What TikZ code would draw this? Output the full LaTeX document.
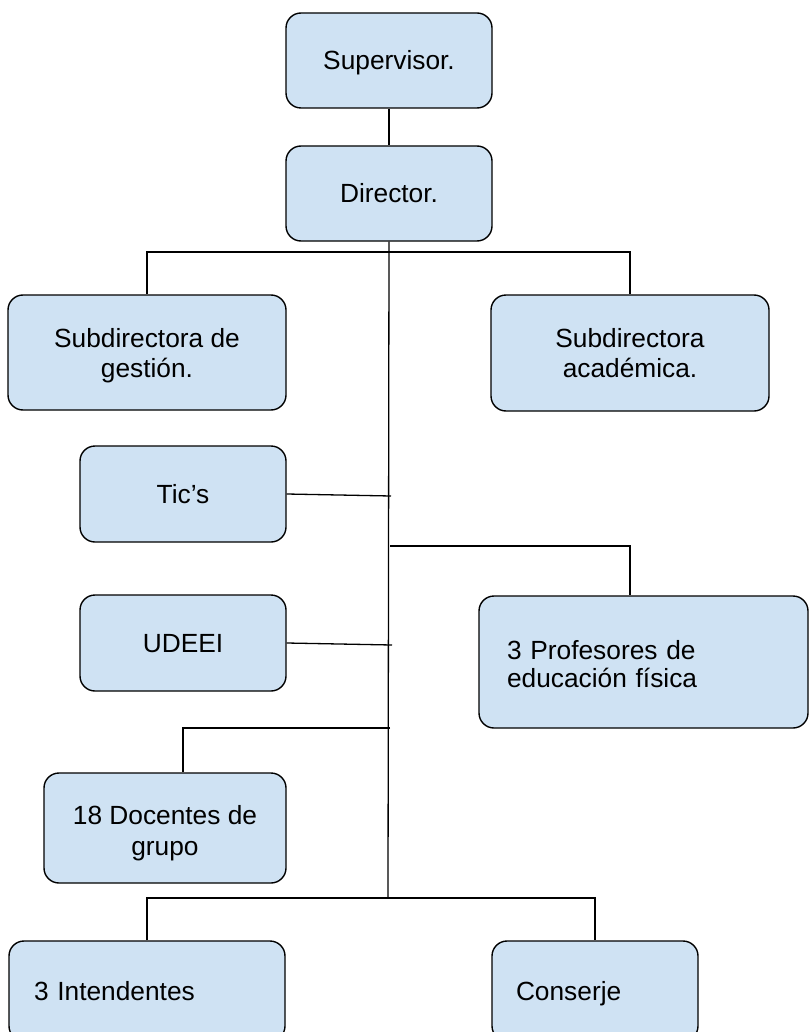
\documentclass[tikz,border=0pt]{standalone}
\usepackage{fontspec}
\setmainfont{Liberation Sans}
\definecolor{boxblue}{HTML}{CFE2F3}
\begin{document}
\begin{tikzpicture}[x=1pt,y=-1pt,
  orgbox/.style={draw=black, line width=1.4pt, fill=boxblue, rounded corners=15pt,
    inner sep=0pt, align=center, font=\fontsize{26.3}{30}\selectfont},
  oneline/.style={text height=24pt, text depth=5pt},
  link/.style={draw=black, line width=1.3pt}]
\useasboundingbox (0,0) rectangle (809,1032);
\clip (0,0) rectangle (809,1032);
\node[orgbox, oneline, minimum width=206pt, minimum height=95pt] (sup) at (389,60.5) {Supervisor.};
\node[orgbox, oneline, minimum width=206pt, minimum height=95pt] (dir) at (389,193.5) {Director.};
\node[orgbox, text height=54pt, text depth=5pt, minimum width=278pt, minimum height=115pt] (sg) at (147,352.5) {Subdirectora de\\gestión.};
\node[orgbox, text height=53pt, text depth=5pt, minimum width=278pt, minimum height=116pt] (sa) at (630,353) {Subdirectora\\académica.};
\node[orgbox, oneline, minimum width=206pt, minimum height=96pt] (tics) at (183,494) {Tic’s};
\node[orgbox, oneline, minimum width=206pt, minimum height=96pt] (udeei) at (183,643) {UDEEI};
\node[orgbox, font=\fontsize{26.3}{28}\selectfont, text height=24pt, text depth=30pt, minimum height=132pt, inner xsep=28pt, text width=273pt, align=left] (prof) at (643.5,662) {3 Profesores de\\educación física};
\node[orgbox, font=\fontsize{26.3}{31}\selectfont, text height=59pt, text depth=5pt, minimum width=242pt, minimum height=110pt] (doc) at (165,828) {18 Docentes de\\grupo};
\node[orgbox, oneline, minimum height=100pt, inner xsep=25pt, text width=226pt, align=left] (int) at (147,991) {3 Intendentes};
\node[orgbox, oneline, minimum height=100pt, inner xsep=24pt, text width=158pt, align=left] (con) at (595,991) {Conserje};

\coordinate (trunkend) at (388,898);
\coordinate (ticsend) at (391,496);
\coordinate (udeeiend) at (392,645);
\coordinate (profstart) at (390,546);
\coordinate (docstart) at (390,728);
\coordinate (topbar) at (389,252);

\draw[link] (sup.south) -- (dir.north);
\draw[link] (dir.south) -- (trunkend);
\draw[link] (sg.north) |- (topbar) -| (sa.north);
\draw[link] (tics.east) -- (ticsend);
\draw[link] (profstart) -| ([xshift=-13.5pt]prof.north);
\draw[link] (udeei.east) -- (udeeiend);
\draw[link] (docstart) -| ([xshift=18pt]doc.north);
\draw[link] (int.north) |- (trunkend) -| (con.north);
\end{tikzpicture}
\end{document}
